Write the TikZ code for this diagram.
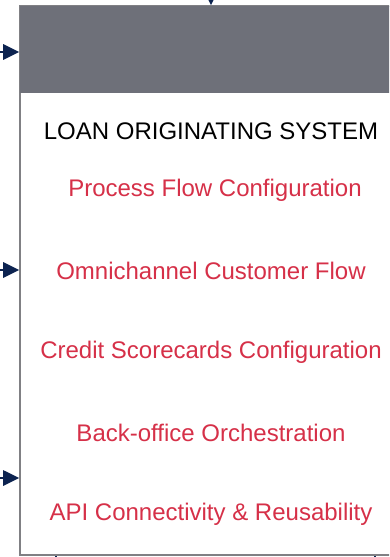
\documentclass[tikz,border=0pt]{standalone}
\usepackage{fontspec}
\setmainfont{Liberation Sans}
\usepackage{xcolor}
\usepackage{tikz}
\usetikzlibrary{arrows.meta, positioning}
\definecolor{losgray}{RGB}{110,112,121}
\definecolor{losborder}{RGB}{128,128,132}
\definecolor{losnavy}{RGB}{12,35,80}
\definecolor{loscrimson}{RGB}{214,48,72}
\tikzset{
x=1pt, y=-1pt, % one unit is one pixel of the layout, y runs downwards
losbox/.style={draw=losborder, line width=1.6pt, fill=white, minimum width=382pt, minimum height=549pt, inner sep=0pt}, % the system block
header/.style={fill=losgray, minimum width=381pt, minimum height=87pt, inner sep=0pt, anchor=north west}, % grey band on top
title/.style={font=\fontsize{24}{28}\selectfont, text=black}, % block caption
feature/.style={font=\fontsize{24}{28}\selectfont, text=loscrimson}, % one feature line
flow/.style={draw=losnavy, line width=2.8pt, -{Triangle[length=16pt, width=15pt]}}, % incoming connector
outflow/.style={draw=losnavy, line width=1.6pt}, % outgoing connector
}
\begin{document}
\begin{tikzpicture}
        \useasboundingbox (0,0) rectangle (389,557);
        \clip (0,0) rectangle (389,557);

        \node[losbox] (los) at (211,280.5) {};
        \node[header] (hdr) at ([xshift=0.8pt, yshift=-0.8pt]los.north west) {};

        \node[title] (name) at (211,131) {LOAN ORIGINATING SYSTEM};
        \node[feature] (f1) at (215,190) {Process Flow Configuration};
        \node[feature] (f2) at (211,271) {Omnichannel Customer Flow};
        \node[feature] (f3) at (211,352) {Credit Scorecards Configuration};
        \node[feature] (f4) at (211,433) {Back-office Orchestration};
        \node[feature] (f5) at (211,514) {API Connectivity \& Reusability};

        \coordinate (in1) at (-4,52);
        \coordinate (in2) at (-4,270);
        \coordinate (in3) at (-4,478);
        \coordinate (intop) at (211,-20);
        \coordinate (out1) at (56,575);
        \coordinate (out2) at (375,575);

        \foreach \i in {in1,in2,in3}
            \draw[flow] (\i) -- (los.west |- \i);
        \draw[flow] (intop) -- (los.north);
        \draw[outflow] (los.south -| out1) -- (out1)
                       (los.south -| out2) -- (out2);
    \end{tikzpicture}
\end{document}
